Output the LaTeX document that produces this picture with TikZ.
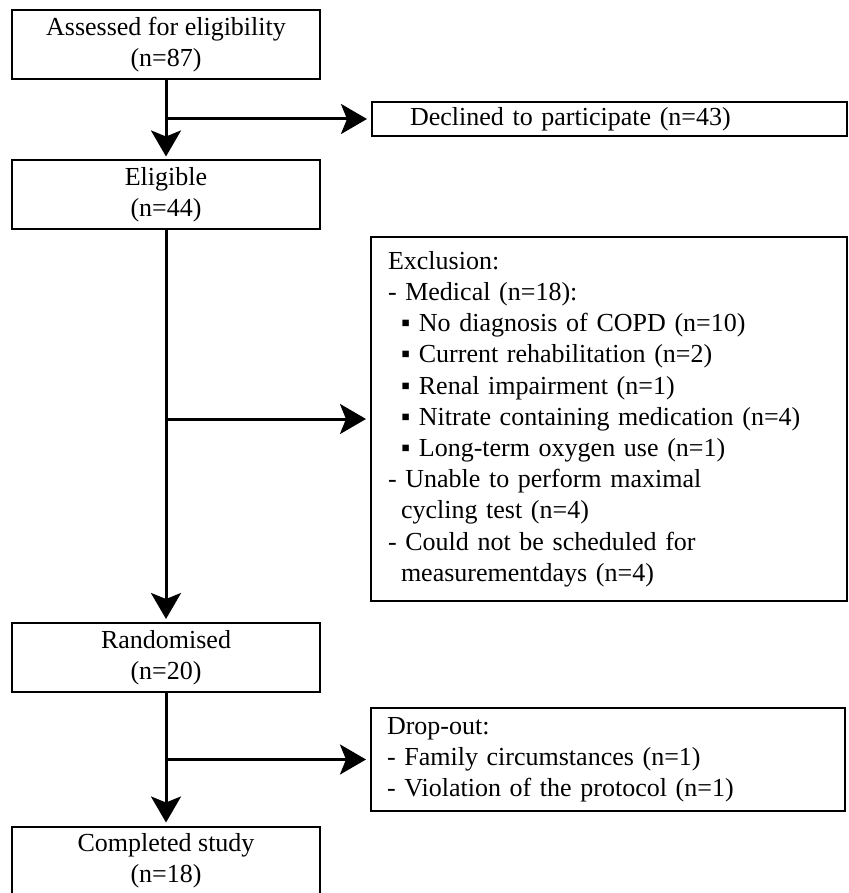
\documentclass[tikz,border=0pt]{standalone}
\usepackage{fontspec}
\setmainfont{Liberation Serif}
\usetikzlibrary{arrows.meta}
\begin{document}
\begin{tikzpicture}[x=0.5pt,y=-0.5pt,
  every node/.style={font=\fontsize{13pt}{15.6pt}\selectfont},
  stage/.style={draw, line width=1pt, minimum width=154pt, minimum height=34.5pt, align=center, inner sep=0pt},
  note/.style={draw, line width=1pt, align=left, inner ysep=0pt, anchor=west},
  arr/.style={line width=1.5pt, -{Stealth[length=13pt,width=15pt,inset=3pt]}, shorten >=1.5pt}]
\useasboundingbox (0,0) rectangle (848,893);
% main stages
\node[stage] (assess) at (166,44.5) {Assessed for eligibility\\(n=87)};
\node[stage] (eligible) at (166,195) {Eligible\\(n=44)};
\node[stage] (random) at (166,657.5) {Randomised\\(n=20)};
\node[stage] (completed) at (166,861) {Completed study\\(n=18)};
% side boxes
\node[note, text width=199.5pt, inner xsep=19pt, minimum height=17pt] (declined) at (371,119) {Declined to participate (n=43)};
\node[note, text width=221pt, inner xsep=8.5pt, minimum height=182pt] (exclusion) at (370,419) {Exclusion:\\
- Medical (n=18):\\
\hspace*{6.5pt}▪ No diagnosis of COPD (n=10)\\
\hspace*{6.5pt}▪ Current rehabilitation (n=2)\\
\hspace*{6.5pt}▪ Renal impairment (n=1)\\
\hspace*{6.5pt}▪ Nitrate containing medication (n=4)\\
\hspace*{6.5pt}▪ Long-term oxygen use (n=1)\\
- Unable to perform maximal\\
\hspace*{6.5pt}cycling test (n=4)\\
- Could not be scheduled for\\
\hspace*{6.5pt}measurementdays (n=4)};
\node[note, text width=221pt, inner xsep=8pt, minimum height=51.5pt] (dropout) at (370,759.5) {Drop-out:\\
- Family circumstances (n=1)\\
- Violation of the protocol (n=1)};
% flow
\draw[arr] (assess) -- (eligible);
\draw[arr] (eligible) -- (random);
\draw[arr] (random) -- (completed);
\draw[arr, shorten >=2pt] (assess.south |- declined.west) -- (declined.west);
\draw[arr, shorten >=2pt] (eligible.south |- exclusion.west) -- (exclusion.west);
\draw[arr, shorten >=2pt] (random.south |- dropout.west) -- (dropout.west);
\end{tikzpicture}
\end{document}
